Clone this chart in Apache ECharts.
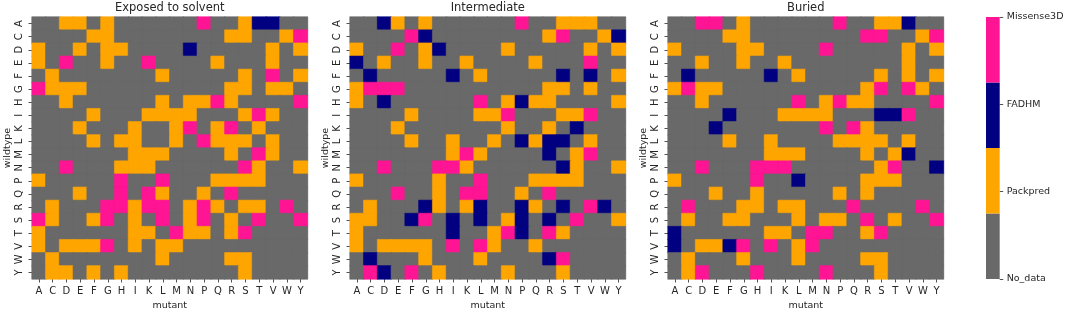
<!DOCTYPE html>
<html><head><meta charset="utf-8">
<style>html,body{margin:0;padding:0;background:#fff}#c{width:1065px;height:310px}</style>
<script src="https://cdn.jsdelivr.net/npm/echarts@6/dist/echarts.min.js"></script>
</head><body><div id="c"></div>
<script>
const residues = ["A","C","D","E","F","G","H","I","K","L","M","N","P","Q","R","S","T","V","W","Y"];
const levelNames = ["No_data","Packpred","FADHM","Missense3D"];
const levelColors = ["#696969","#FFA500","#000080","#FF1493"];
const panelTitles = ["Exposed to solvent","Intermediate","Buried"];
const colorbarBand = [0.75];
// one string per wildtype row, one digit per mutant column (index into levelNames)
const exposed = [
"00110100000030012200",
"00001100000000110013",
"10010110000200000101",
"10300100300001000100",
"01000000010000010301",
"31110000000000110110",
"00100000010113100003",
"00001000111100013100",
"00010001001301301000",
"00001011001031110100",
"00000001110000103100",
"00300011100000031001",
"10000030030001111000",
"00010030310010300000",
"01000331330131011030",
"31001301030130103003",
"10000001103110130000",
"10111301011000000000",
"01000000010000110000",
"01101010000000010000"];
const intermediate = [
"00210100000030011100",
"00003200000000130012",
"10030120000100000101",
"20100100100001000300",
"02000002010000020201",
"13330000000000110100",
"10200000030121100001",
"00001000011300011300",
"00010000000100102000",
"00001001001021220100",
"00000001310000201300",
"00300033100000021001",
"10000010030001111000",
"00030010330010300000",
"01000210120021020320",
"11002302020120203001",
"10000002001320310000",
"10111103031001000000",
"02000100010000230000",
"03203010000100010000"];
const buried = [
"00330100000030011200",
"00001100000000330013",
"10000110000300000101",
"00100100100000000100",
"02000002010000010101",
"13110000000000130310",
"00100000030131100003",
"00002000111100022300",
"00020000000303100000",
"00001001000011110100",
"00000001110000101200",
"00300033300000013002",
"10000030020000111000",
"00010010000010100000",
"03000110110003000030",
"01001100010110301003",
"20000001103300130000",
"20112303013000000000",
"01000100010000110000",
"01300030000300010000"];
const panels = [exposed, intermediate, buried];

const textColor = "#262626";
const font = "DejaVu Sans";
const gridLefts = [32, 350, 668];
const gridTop = 17, gridW = 275.5, gridH = 262;
const tickSize = 10, nameSize = 9.5;
const grids = [], xAxes = [], yAxes = [], series = [], titles = [];

panels.forEach((rows, p) => {
  grids.push({left: gridLefts[p], top: gridTop, width: gridW, height: gridH, outerBoundsMode: "none",
    show: true, backgroundColor: levelColors[0], borderWidth: 0});
  titles.push({text: panelTitles[p], left: gridLefts[p] + gridW / 2, top: 2, padding: 0, textAlign: "center",
    textStyle: {fontFamily: font, fontSize: 11.5, fontWeight: "normal", color: textColor}});
  xAxes.push({type: "category", gridIndex: p, data: residues, name: "mutant", nameLocation: "middle", nameGap: 20,
    nameTextStyle: {fontFamily: font, fontSize: nameSize, color: textColor},
    axisLine: {show: false}, splitLine: {show: false}, splitArea: {show: false},
    axisTick: {show: true, alignWithLabel: true, length: 3.5, lineStyle: {color: textColor, width: 0.8}},
    axisLabel: {interval: 0, margin: 7, fontFamily: font, fontSize: tickSize, color: textColor}});
  yAxes.push({type: "category", gridIndex: p, data: residues, inverse: true, name: "wildtype", nameLocation: "middle", nameGap: 19,
    nameRotate: 90, nameTextStyle: {fontFamily: font, fontSize: nameSize, color: textColor},
    axisLine: {show: false}, splitLine: {show: false}, splitArea: {show: false},
    axisTick: {show: true, alignWithLabel: true, length: 3.5, lineStyle: {color: textColor, width: 0.8}},
    axisLabel: {interval: 0, rotate: 90, margin: 8, fontFamily: font, fontSize: tickSize, color: textColor}});
  const data = [];
  rows.forEach((row, y) => row.split("").forEach((v, x) => data.push({
    value: [x, y, +v], itemStyle: {borderColor: levelColors[+v], borderWidth: 0.6}})));
  series.push({type: "heatmap", xAxisIndex: p, yAxisIndex: p, data: data, progressive: 0, animation: false,
    emphasis: {disabled: true}});
});

// colour bar: stacked bands on a 0..3 value axis
grids.push({left: 986, top: gridTop, width: 13.7, height: gridH, outerBoundsMode: "none"});
xAxes.push({type: "category", gridIndex: 3, data: [""], show: false});
yAxes.push({type: "value", gridIndex: 3, position: "right", min: 0, max: 3, interval: 1,
  axisLine: {show: false}, splitLine: {show: false},
  axisTick: {show: true, length: 3.5, lineStyle: {color: textColor, width: 0.8}},
  axisLabel: {margin: 7, fontFamily: font, fontSize: nameSize, color: textColor, formatter: v => levelNames[v]}});
levelColors.forEach(c => series.push({type: "bar", xAxisIndex: 3, yAxisIndex: 3, stack: "cb", barWidth: "100%",
  data: colorbarBand, itemStyle: {color: c}, animation: false, silent: true}));

const chart = echarts.init(document.getElementById("c"), null, {renderer: "canvas"});
chart.setOption({
  animation: false, backgroundColor: "#fff", title: titles, grid: grids, xAxis: xAxes, yAxis: yAxes,
  visualMap: {show: false, type: "piecewise", seriesIndex: [0, 1, 2], dimension: 2,
    pieces: levelColors.map((c, i) => ({value: i, color: c}))},
  series: series
});
</script></body></html>
